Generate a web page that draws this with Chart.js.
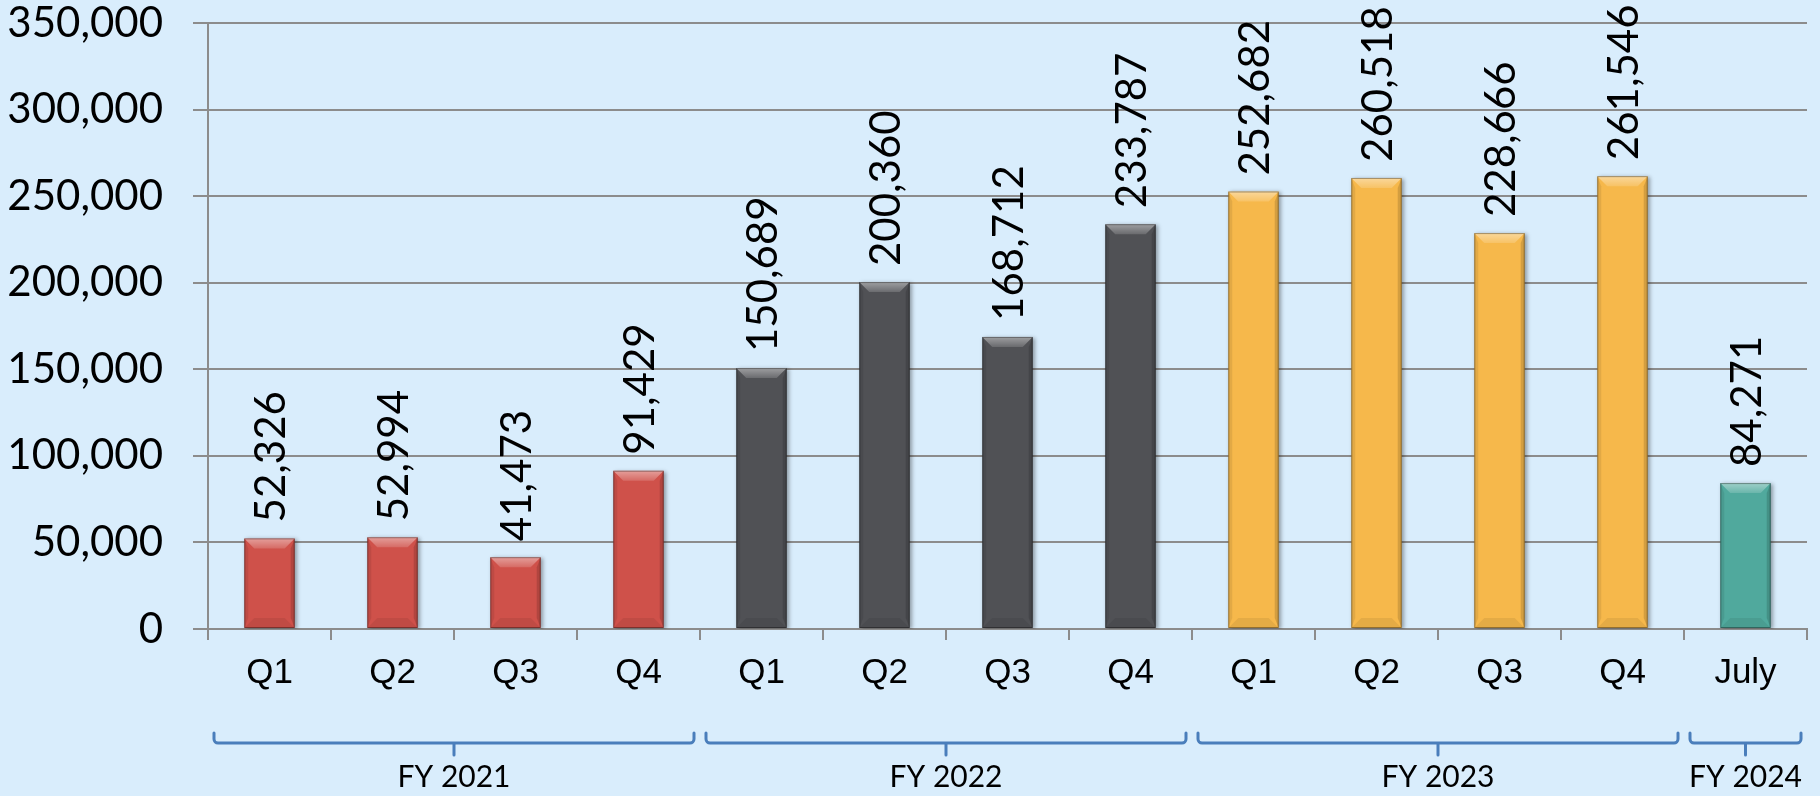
<!DOCTYPE html>
<html>
<head>
<meta charset="utf-8">
<script src="https://cdn.jsdelivr.net/npm/chart.js@4/dist/chart.umd.min.js"></script>
<style>
  html, body { margin: 0; padding: 0; background: #D9EDFC; }
  #chart { display: block; }
</style>
</head>
<body>
<canvas id="chart" width="1820" height="796"></canvas>
<script>
const categories = ["Q1", "Q2", "Q3", "Q4", "Q1", "Q2", "Q3", "Q4", "Q1", "Q2", "Q3", "Q4", "July"];
const values = [52326, 52994, 41473, 91429, 150689, 200360, 168712, 233787, 252682, 260518, 228666, 261546, 84271];
const barColors = ["#CF514A", "#CF514A", "#CF514A", "#CF514A",
                   "#505155", "#505155", "#505155", "#505155",
                   "#F6B84B", "#F6B84B", "#F6B84B", "#F6B84B",
                   "#50A99D"];
const groupLabels = ["FY 2021", "FY 2022", "FY 2023", "FY 2024"];
const groupSizes = [4, 4, 4, 1];
const yMin = 0, yMax = 350000, yStep = 50000;

const GRID = "#8C8C8C";
const fmt = v => Number(v).toLocaleString("en-US");

// soft shadow under the bars
const shadow = {
    id: "shadow",
    beforeDatasetsDraw(chart) {
        const ctx = chart.ctx;
        ctx.save();
        ctx.shadowColor = "rgba(0,0,0,0.35)";
        ctx.shadowBlur = 4;
        ctx.shadowOffsetX = 2;
        ctx.shadowOffsetY = 1;
    },
    afterDatasetsDraw(chart) {
        chart.ctx.restore();
    }
};

// bevel look + value labels, using the bar elements the library placed
const bevel = {
    id: "bevel",
    afterDatasetsDraw(chart) {
        const ctx = chart.ctx;
        const meta = chart.getDatasetMeta(0);
        meta.data.forEach((bar, i) => {
            const w = bar.width, l = bar.x - w / 2, r = bar.x + w / 2;
            const t = bar.y, b = bar.base;
            const bv = Math.min(10, (b - t) / 2);
            ctx.save();
            // top face
            const tg = ctx.createLinearGradient(0, t, 0, t + bv);
            tg.addColorStop(0, "rgba(255,255,255,0.45)");
            tg.addColorStop(1, "rgba(255,255,255,0.15)");
            ctx.fillStyle = tg;
            ctx.beginPath();
            ctx.moveTo(l, t); ctx.lineTo(r, t); ctx.lineTo(r - bv, t + bv); ctx.lineTo(l + bv, t + bv);
            ctx.closePath(); ctx.fill();
            // sides
            ctx.fillStyle = "rgba(0,0,0,0.08)";
            ctx.beginPath();
            ctx.moveTo(l, t); ctx.lineTo(l + 4, t + bv); ctx.lineTo(l + 4, b - bv); ctx.lineTo(l, b);
            ctx.closePath(); ctx.fill();
            ctx.fillStyle = "rgba(0,0,0,0.14)";
            ctx.beginPath();
            ctx.moveTo(r, t); ctx.lineTo(r - 4, t + bv); ctx.lineTo(r - 4, b - bv); ctx.lineTo(r, b);
            ctx.closePath(); ctx.fill();
            // bottom face
            ctx.fillStyle = "rgba(0,0,0,0.07)";
            ctx.beginPath();
            ctx.moveTo(l, b); ctx.lineTo(r, b); ctx.lineTo(r - bv, b - bv); ctx.lineTo(l + bv, b - bv);
            ctx.closePath(); ctx.fill();
            // outline
            ctx.strokeStyle = "rgba(0,0,0,0.35)";
            ctx.lineWidth = 1;
            ctx.strokeRect(l + 0.5, t + 0.5, w - 1, b - t - 1);
            ctx.restore();

            // value label, rotated
            ctx.save();
            ctx.font = "42px Lato";
            ctx.fillStyle = "#000";
            ctx.textAlign = "left";
            ctx.textBaseline = "alphabetic";
            ctx.translate(bar.x + 15, t - 16);
            ctx.rotate(-Math.PI / 2);
            ctx.fillText(fmt(values[i]), 0, 0);
            ctx.restore();
        });
    }
};

// fiscal year brackets under the category labels
const brackets = {
    id: "brackets",
    afterDraw(chart) {
        const ctx = chart.ctx;
        const x = chart.scales.x;
        const half = (x.getPixelForValue(1) - x.getPixelForValue(0)) / 2;
        const yLine = 743, yHook = 733, yTick = 755, rad = 4, inset = 6;
        let start = 0;
        groupLabels.forEach((label, g) => {
            const end = start + groupSizes[g] - 1;
            const left = x.getPixelForValue(start) - half + inset;
            const right = Math.min(x.getPixelForValue(end) + half - inset, chart.width - 3);
            const mid = (left + right) / 2;
            ctx.save();
            ctx.strokeStyle = "#4A7EBB";
            ctx.lineWidth = 3;
            ctx.lineCap = "round";
            ctx.beginPath();
            ctx.moveTo(left, yHook);
            ctx.arcTo(left, yLine, left + rad, yLine, rad);
            ctx.arcTo(right, yLine, right, yHook, rad);
            ctx.lineTo(right, yHook);
            ctx.moveTo(mid, yLine);
            ctx.lineTo(mid, yTick);
            ctx.stroke();
            ctx.font = "30px Lato";
            ctx.fillStyle = "#000";
            ctx.textAlign = "center";
            ctx.textBaseline = "middle";
            ctx.fillText(label, mid, 777);
            ctx.restore();
            start = end + 1;
        });
    }
};

new Chart(document.getElementById("chart"), {
    type: "bar",
    data: {
        labels: categories,
        datasets: [{
            data: values,
            backgroundColor: barColors,
            borderWidth: 0,
            barPercentage: 0.41,
            categoryPercentage: 1
        }]
    },
    options: {
        responsive: false,
        animation: false,
        devicePixelRatio: 1,
        layout: { padding: { left: 0, right: 13, top: 23, bottom: 0 } },
        plugins: { legend: { display: false }, tooltip: { enabled: false } },
        scales: {
            x: {
                afterFit: s => { s.height = 167; s.paddingLeft = 0; s.paddingRight = 0; },
                grid: { drawOnChartArea: false, drawTicks: true, tickLength: 11, color: GRID, lineWidth: 2 },
                border: { color: GRID, width: 2 },
                ticks: { font: { family: "Liberation Sans", size: 35 }, color: "#000", padding: 12, maxRotation: 0 }
            },
            y: {
                min: yMin,
                max: yMax,
                afterFit: s => { s.width = 208; s.paddingTop = 0; s.paddingBottom = 0; },
                grid: { color: GRID, lineWidth: 2, tickLength: 15 },
                border: { color: GRID, width: 2 },
                ticks: {
                    stepSize: yStep,
                    font: { family: "Lato", size: 42, lineHeight: 1.1 },
                    color: "#000",
                    padding: 30,
                    callback: v => fmt(v)
                }
            }
        }
    },
    plugins: [shadow, bevel, brackets]
});
</script>
</body>
</html>
